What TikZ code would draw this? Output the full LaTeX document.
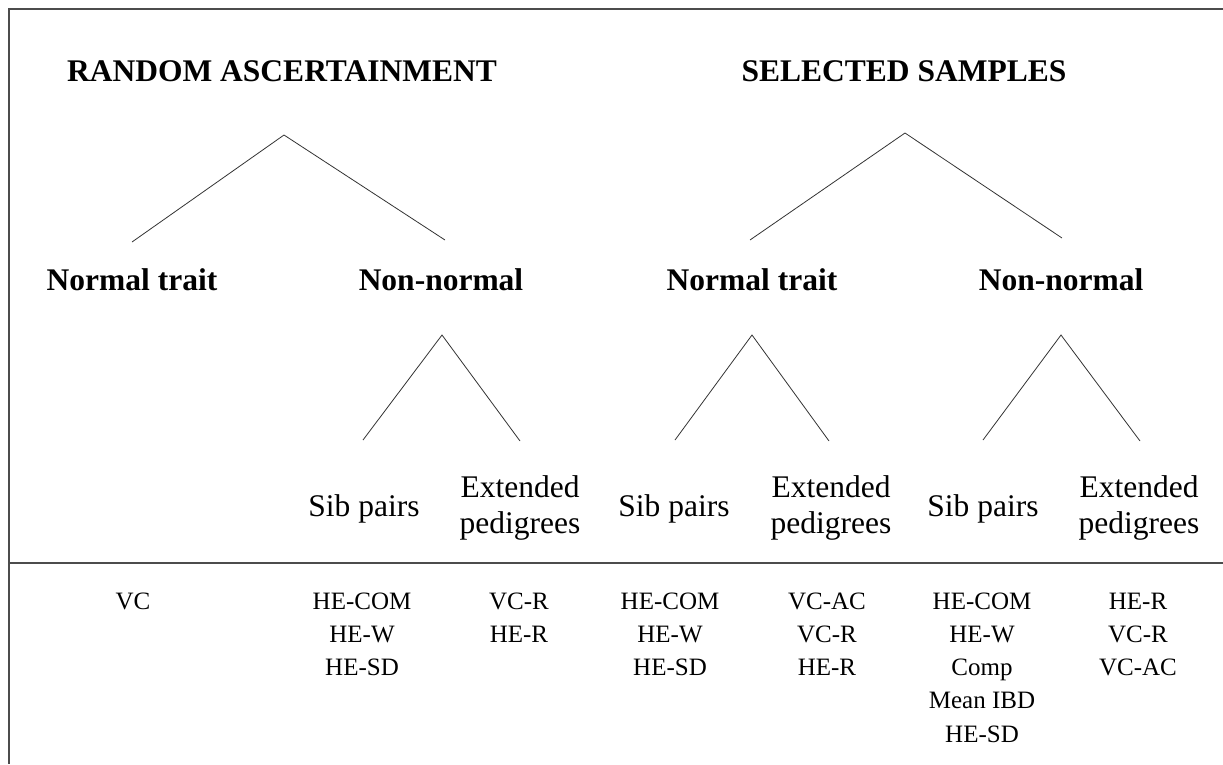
\documentclass[tikz,border=0pt]{standalone}
\usepackage{fontspec}
\setmainfont{Liberation Serif}
\begin{document}
\begin{tikzpicture}[x=1pt,y=-1pt,
  frame/.style={line width=1.6pt,draw=black!70},
  branch/.style={line width=0.8pt,draw=black!80},
  big/.style={font=\fontsize{31.5}{36}\selectfont\bfseries,anchor=base,inner sep=0pt},
  mid/.style={font=\fontsize{31.5}{36.5}\selectfont,anchor=base,inner sep=0pt,align=center},
  lst/.style={font=\fontsize{25}{33.3}\selectfont,anchor=base,inner sep=0pt,align=center}]
\useasboundingbox (0,0) rectangle (1223,764);
% frame
\coordinate (tl) at (9,9);
\coordinate (tr) at (1223,9);
\coordinate (bl) at (9,764);
\coordinate (ml) at (9,563);
\coordinate (mr) at (1223,563);
\draw[frame] (tr) -- (tl) -- (bl);
\draw[frame] (ml) -- (mr);
% titles
\node[big] (ra) at (282,81) {RANDOM ASCERTAINMENT};
\node[big] (ss) at (904,81) {SELECTED SAMPLES};
% level 2
\node[big] (rant) at (132,290) {Normal trait};
\node[big] (rann) at (441,290) {Non-normal};
\node[big] (ssnt) at (752,290) {Normal trait};
\node[big] (ssnn) at (1061,290) {Non-normal};
% tree coordinates
\coordinate (a1) at (284,135); \coordinate (l1) at (132,242); \coordinate (r1) at (445,240);
\coordinate (a2) at (905,133); \coordinate (l2) at (750,240); \coordinate (r2) at (1062,238);
\coordinate (a3) at (442,335); \coordinate (l3) at (363,440); \coordinate (r3) at (520,441);
\coordinate (a4) at (752,335); \coordinate (l4) at (675,440); \coordinate (r4) at (829,441);
\coordinate (a5) at (1061,335); \coordinate (l5) at (983,440); \coordinate (r5) at (1140,441);
\draw[branch] (l1) -- (a1) -- (r1);
\draw[branch] (l2) -- (a2) -- (r2);
\draw[branch] (l3) -- (a3) -- (r3);
\draw[branch] (l4) -- (a4) -- (r4);
\draw[branch] (l5) -- (a5) -- (r5);
% level 3 (base anchor = baseline of last line)
\node[mid] (sib1) at (364,516) {Sib pairs};
\node[mid] (ext1) at (520,533.5) {Extended\\pedigrees};
\node[mid] (sib2) at (674,516) {Sib pairs};
\node[mid] (ext2) at (831,533.5) {Extended\\pedigrees};
\node[mid] (sib3) at (983,516) {Sib pairs};
\node[mid] (ext3) at (1139,533.5) {Extended\\pedigrees};
% lists (first baseline 609, step 33.3)
\node[lst] (m0) at (133,609) {VC};
\node[lst] (m1) at (362,675.6) {HE-COM\\HE-W\\HE-SD};
\node[lst] (m2) at (519,642.3) {VC-R\\HE-R};
\node[lst] (m3) at (670,675.6) {HE-COM\\HE-W\\HE-SD};
\node[lst] (m4) at (827,675.6) {VC-AC\\VC-R\\HE-R};
\node[lst] (m5) at (982,742.2) {HE-COM\\HE-W\\Comp\\Mean IBD\\HE-SD};
\node[lst] (m6) at (1138,675.6) {HE-R\\VC-R\\VC-AC};
\end{tikzpicture}
\end{document}
